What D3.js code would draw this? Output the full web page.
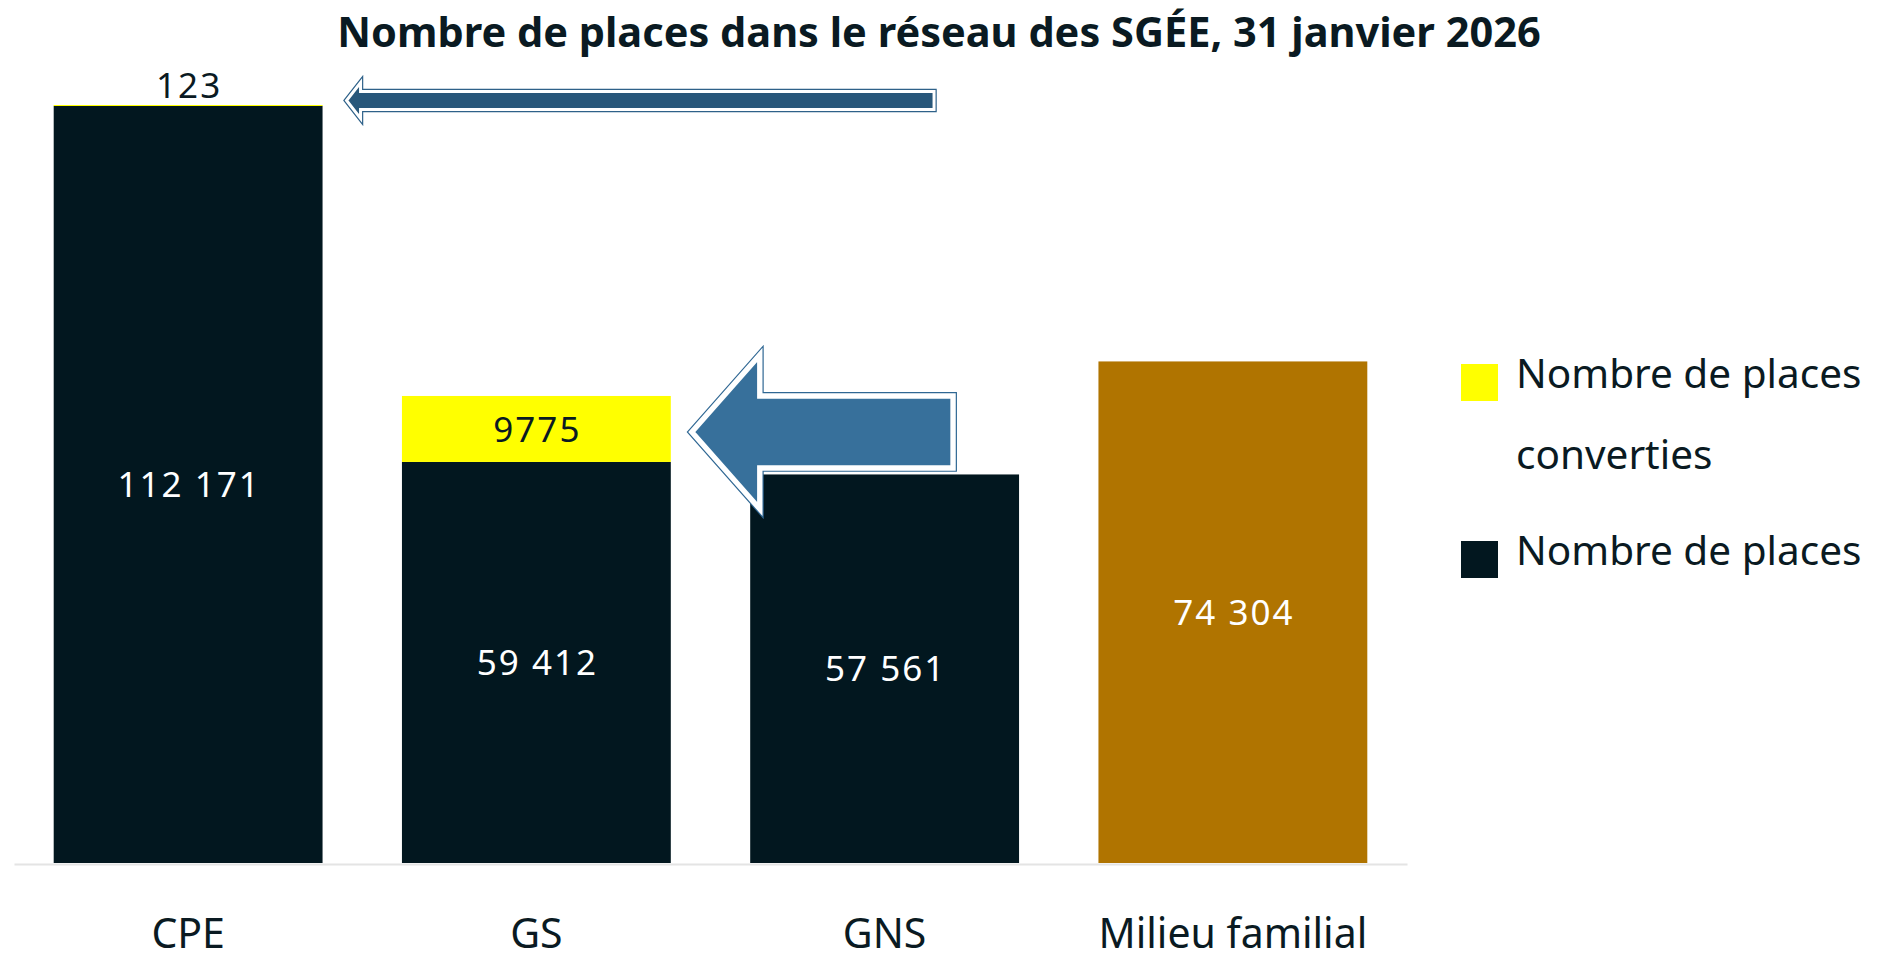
<!DOCTYPE html>
<html>
<head>
<meta charset="utf-8">
<script src="https://cdn.jsdelivr.net/npm/d3@7"></script>
<style>
  html, body { margin: 0; padding: 0; background: #ffffff; }
  svg { display: block; font-family: "Noto Sans", "Open Sans", sans-serif; }
</style>
</head>
<body>
<svg id="chart" width="1878" height="959"></svg>
<script>
// Places in the SGÉE network by service type
const categories = ["CPE", "GS", "GNS", "Milieu familial"];
const placesBase = [112171, 59412, 57561, 0];        // Nombre de places
const placesConverted = [123, 9775, 0, 0];           // Nombre de places converties
const placesFamilial = [0, 0, 0, 74304];             // Milieu familial
const baseLabels = ["112 171", "59 412", "57 561", ""];
const convertedLabels = ["123", "9775", "", ""];
const familialLabels = ["", "", "", "74 304"];
const legendLabels = [["Nombre de places", "converties"], ["Nombre de places"]];
const titleText = "Nombre de places dans le réseau des SGÉE, 31 janvier 2026";

const COL_DARK = "#02171f";
const COL_YELLOW = "#ffff00";
const COL_FAMILIAL = "#b07400";
const COL_TEXT = "#0a1a22";

const svg = d3.select("#chart");

const x = d3.scaleBand()
  .domain(categories)
  .range([14, 1407])
  .paddingInner(0.228)
  .paddingOuter(0.114);

const totals = categories.map((c, i) => placesBase[i] + placesConverted[i] + placesFamilial[i]);
const y = d3.scaleLinear()
  .domain([0, d3.max(totals)])
  .range([863, 105]);

// Title
svg.append("text")
  .attr("x", 939)
  .attr("y", 47)
  .attr("text-anchor", "middle")
  .attr("font-size", 41.5)
  .attr("font-weight", 700)
  .attr("fill", COL_TEXT)
  .text(titleText);

// Axis
const axis = svg.append("g")
  .attr("transform", `translate(0,${y(0) + 1})`)
  .call(d3.axisBottom(x).tickSize(0).tickSizeOuter(0));
axis.select(".domain").attr("stroke", "#e4e4e4").attr("stroke-width", 2);
axis.selectAll(".tick text")
  .attr("y", 84)
  .attr("dy", 0)
  .attr("font-size", 41)
  .attr("font-family", "'Noto Sans', sans-serif")
  .attr("fill", COL_TEXT);

const rows = categories.map((c, i) => ({
  cat: c,
  base: placesBase[i],
  conv: placesConverted[i],
  fam: placesFamilial[i],
  baseLabel: baseLabels[i],
  convLabel: convertedLabels[i],
  famLabel: familialLabels[i]
}));

const bars = svg.append("g");

// Base places (dark)
bars.selectAll(".base")
  .data(rows.filter(d => d.base > 0))
  .join("rect")
  .attr("x", d => x(d.cat))
  .attr("width", x.bandwidth())
  .attr("y", d => y(d.base))
  .attr("height", d => y(0) - y(d.base))
  .attr("fill", COL_DARK);

// Converted places (yellow), stacked on top
bars.selectAll(".conv")
  .data(rows.filter(d => d.conv > 0))
  .join("rect")
  .attr("x", d => x(d.cat))
  .attr("width", x.bandwidth())
  .attr("y", d => y(d.base + d.conv))
  .attr("height", d => Math.max(1, y(d.base) - y(d.base + d.conv)))
  .attr("fill", COL_YELLOW);

// Milieu familial
bars.selectAll(".fam")
  .data(rows.filter(d => d.fam > 0))
  .join("rect")
  .attr("x", d => x(d.cat))
  .attr("width", x.bandwidth())
  .attr("y", d => y(d.fam))
  .attr("height", d => y(0) - y(d.fam))
  .attr("fill", COL_FAMILIAL);

// Value labels
const labels = svg.append("g")
  .attr("text-anchor", "middle")
  .attr("font-size", 35)
  .attr("letter-spacing", 2);

labels.selectAll(".lb")
  .data(rows.filter(d => d.base > 0))
  .join("text")
  .attr("x", d => x(d.cat) + x.bandwidth() / 2 + 1)
  .attr("y", d => (y(d.base) + y(0)) / 2)
  .attr("dy", "0.36em")
  .attr("fill", "#ffffff")
  .text(d => d.baseLabel);

labels.selectAll(".lf")
  .data(rows.filter(d => d.fam > 0))
  .join("text")
  .attr("x", d => x(d.cat) + x.bandwidth() / 2 + 1)
  .attr("y", d => (y(d.fam) + y(0)) / 2)
  .attr("dy", "0.36em")
  .attr("fill", "#ffffff")
  .text(d => d.famLabel);

labels.selectAll(".lc")
  .data(rows.filter(d => d.conv > 0))
  .join("text")
  .attr("x", d => x(d.cat) + x.bandwidth() / 2 + 1)
  .attr("y", d => {
    const top = y(d.base + d.conv), bot = y(d.base);
    // segment too thin: place label above the bar
    return (bot - top) < 30 ? top - 7 : (top + bot) / 2;
  })
  .attr("dy", d => (y(d.base) - y(d.base + d.conv)) < 30 ? 0 : "0.36em")
  .attr("fill", COL_TEXT)
  .text(d => d.convLabel);

// Left-pointing block arrow outline
function leftArrow(tipX, cy, headBackX, tailX, headHalf, shaftHalf) {
  return `M${tipX},${cy} L${headBackX},${cy - headHalf} L${headBackX},${cy - shaftHalf} ` +
         `L${tailX},${cy - shaftHalf} L${tailX},${cy + shaftHalf} L${headBackX},${cy + shaftHalf} ` +
         `L${headBackX},${cy + headHalf} Z`;
}

function drawArrow(d, fill, edge, gap, line) {
  const g = svg.append("g");
  g.append("path").attr("d", d)
    .attr("fill", "none").attr("stroke", edge)
    .attr("stroke-width", (gap + line) * 2).attr("stroke-linejoin", "miter");
  g.append("path").attr("d", d)
    .attr("fill", fill).attr("stroke", "#ffffff")
    .attr("stroke-width", gap * 2).attr("stroke-linejoin", "miter");
}

// Arrow toward the CPE converted places
const cpeRight = x("CPE") + x.bandwidth();
const cpeTop = y(placesBase[0] + placesConverted[0]);
drawArrow(leftArrow(cpeRight + 24, cpeTop - 4.5, cpeRight + 38, x("GNS") + x.bandwidth() - 85, 18, 9),
  "#28577a", "#2e6189", 1.5, 1.2);

// Arrow from GNS toward the GS converted places
const gsRight = x("GS") + x.bandwidth();
const gsMid = (y(placesBase[1]) + y(placesBase[1] + placesConverted[1])) / 2;
drawArrow(leftArrow(gsRight + 21, gsMid + 3, gsRight + 89, x("GNS") + x.bandwidth() - 66, 77, 36),
  "#37709b", "#2f6793", 2.7, 1.2);

// Legend
const legend = svg.append("g").attr("font-size", 40.5).attr("fill", COL_TEXT);
legend.append("rect").attr("x", 1461).attr("y", 364).attr("width", 37).attr("height", 37).attr("fill", COL_YELLOW);
legend.append("text").attr("x", 1516).attr("y", 388).text(legendLabels[0][0]);
legend.append("text").attr("x", 1516).attr("y", 469).text(legendLabels[0][1]);
legend.append("rect").attr("x", 1461).attr("y", 541).attr("width", 37).attr("height", 37).attr("fill", COL_DARK);
legend.append("text").attr("x", 1516).attr("y", 565).text(legendLabels[1][0]);
</script>
</body>
</html>
